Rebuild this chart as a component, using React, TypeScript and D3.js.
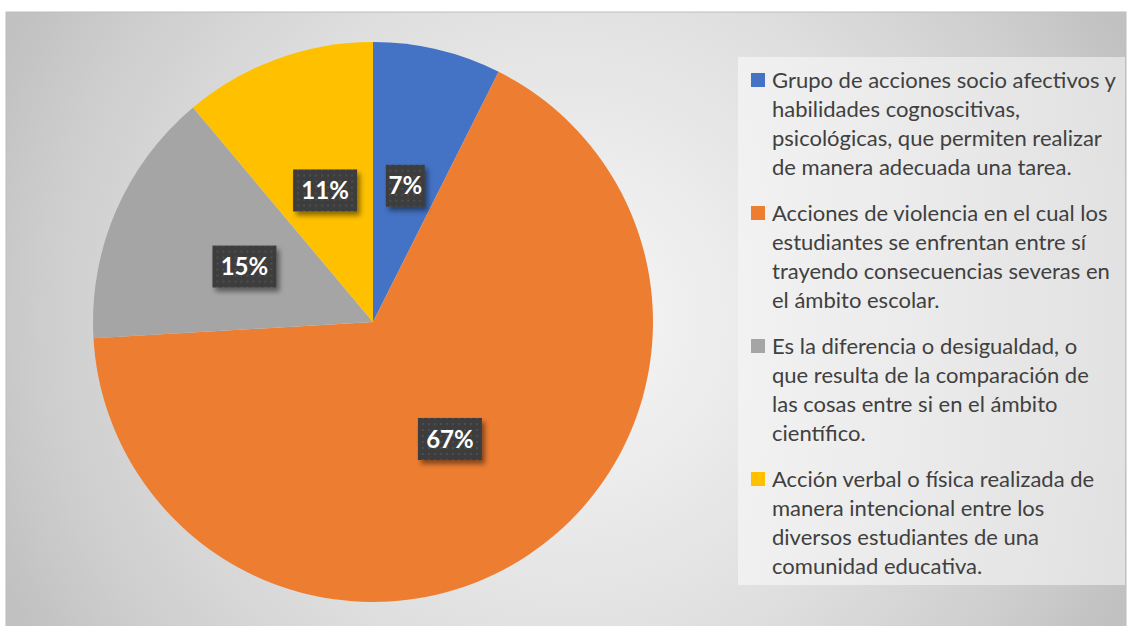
import React from "react";
import * as d3 from "d3";

const categories: string[] = [
  "Grupo de acciones socio afectivos y\nhabilidades cognoscitivas,\npsicológicas, que permiten realizar\nde manera adecuada una tarea.",
  "Acciones de violencia en el cual los\nestudiantes se enfrentan entre sí\ntrayendo consecuencias severas en\nel ámbito escolar.",
  "Es la diferencia o desigualdad, o\nque resulta de la comparación de\nlas cosas entre si en el ámbito\ncientífico.",
  "Acción verbal o física realizada de\nmanera intencional entre los\ndiversos estudiantes de una\ncomunidad educativa.",
];
const values: number[] = [2, 18, 4, 3];
const colors: string[] = ["#4472C4", "#ED7D31", "#A5A5A5", "#FFC000"];

const W = 1131;
const H = 626;

export default function App() {
  const cx = 373;
  const cy = 322;
  const R = 280;
  const total = d3.sum(values);
  const pie = d3.pie<number>().sort(null).value((d) => d)(values);
  const arc = d3.arc<d3.PieArcDatum<number>>().innerRadius(0).outerRadius(R);
  const fmt = d3.format(".0%");

  const legendX = 751;
  const legendY0 = 80;
  const lineH = 29;
  const itemGap = 17;

  let yCursor = legendY0;
  const legendItems = categories.map((c, i) => {
    const lines = c.split("\n");
    const y = yCursor;
    yCursor += lines.length * lineH + itemGap;
    return { lines, y, color: colors[i] };
  });

  return (
    <svg
      width={W}
      height={H}
      style={{ position: "absolute", left: 0, top: 0 }}
      xmlns="http://www.w3.org/2000/svg"
    >
      <defs>
        <radialGradient id="bg" gradientUnits="userSpaceOnUse" cx={566} cy={319} r={620}>
          <stop offset="0" stopColor="#f7f7f7" />
          <stop offset="0.54" stopColor="#e0e0e0" />
          <stop offset="0.85" stopColor="#cdcdcd" />
          <stop offset="1" stopColor="#c1c1c1" />
        </radialGradient>
        <linearGradient id="legbg" x1="0" y1="0" x2="1" y2="0">
          <stop offset="0" stopColor="#f3f3f3" />
          <stop offset="1" stopColor="#e6e6e6" />
        </linearGradient>
        <pattern id="dots" width={6} height={6} patternUnits="userSpaceOnUse">
          <rect width={6} height={6} fill="#3d3d3d" />
          <rect x={2} y={2} width={2} height={2} fill="#4e4e4e" />
        </pattern>
        <filter id="shadow" x="-30%" y="-30%" width="160%" height="170%">
          <feDropShadow dx={3} dy={4} stdDeviation={2.5} floodColor="#000" floodOpacity={0.45} />
        </filter>
      </defs>
      <rect x={0} y={0} width={W} height={H} fill="#ffffff" />
      <rect x={6} y={12} width={1120} height={620} fill="url(#bg)" stroke="#bdbdbd" strokeWidth={1} />

      <g transform={`translate(${cx},${cy})`}>
        {pie.map((p, i) => (
          <path key={i} d={arc(p) || ""} fill={colors[i]} />
        ))}
        {pie.map((p, i) => {
          const [x, y] = arc.centroid(p);
          const label = fmt(p.value / total);
          const bw = 25 * label.length - 11;
          const bh = 42;
          return (
            <g key={"l" + i} transform={`translate(${x},${y})`}>
              <rect
                x={-bw / 2}
                y={-bh / 2}
                width={bw}
                height={bh}
                fill="url(#dots)"
                filter="url(#shadow)"
              />
              <text
                textAnchor="middle"
                dy="0.36em"
                fill="#ffffff"
                fontFamily="Lato, 'Open Sans', sans-serif"
                fontWeight={700}
                fontSize={24}
              >
                {label}
              </text>
            </g>
          );
        })}
      </g>

      <rect x={738} y={57} width={387} height={528} fill="url(#legbg)" opacity={0.85} />
      {legendItems.map((it, i) => (
        <g key={"lg" + i}>
          <rect x={legendX} y={it.y - 7} width={14} height={14} fill={it.color} />
          {it.lines.map((ln, j) => (
            <text
              key={j}
              x={772}
              y={it.y + j * lineH}
              dy="0.35em"
              fill="#404040"
              fontFamily="Lato, 'Open Sans', sans-serif"
              fontSize={22}
            >
              {ln}
            </text>
          ))}
        </g>
      ))}
    </svg>
  );
}
